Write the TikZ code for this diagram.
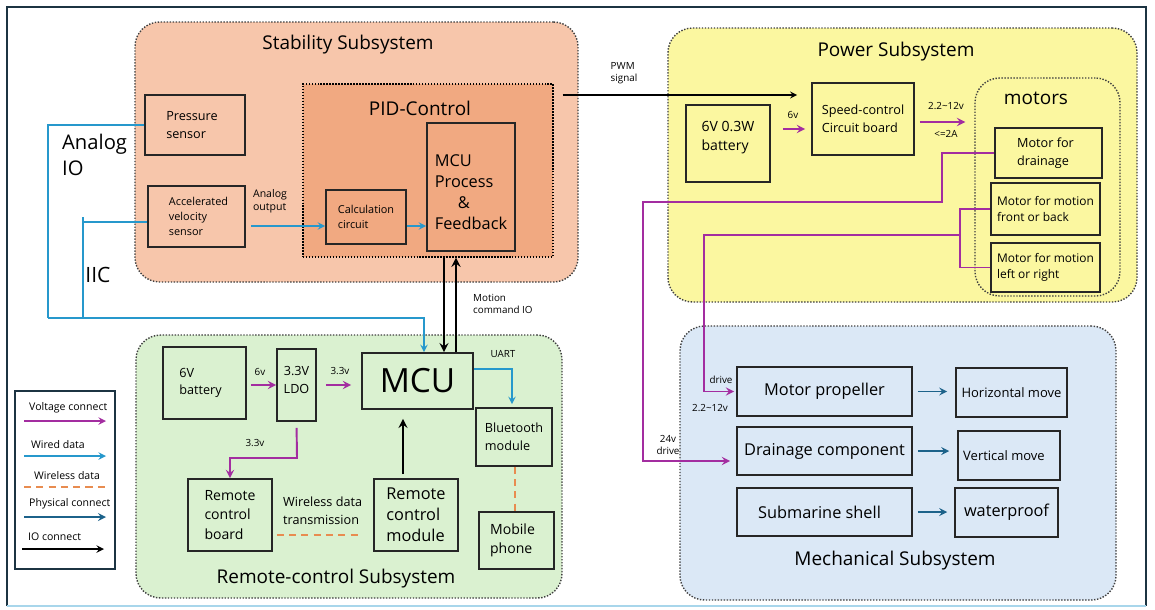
\documentclass[tikz,border=0pt]{standalone}
\usepackage{fontspec}
\setmainfont{Open Sans}
\usetikzlibrary{fit,positioning}
\tikzset{>=stealth}
\definecolor{stabFill}{RGB}{247,198,171}
\definecolor{pidFill}{RGB}{241,169,129}
\definecolor{powFill}{RGB}{251,247,160}
\definecolor{mechFill}{RGB}{219,232,246}
\definecolor{remFill}{RGB}{218,241,208}
\definecolor{voltColor}{RGB}{163,45,160}
\definecolor{wireColor}{RGB}{38,152,204}
\definecolor{wlColor}{RGB}{232,140,80}
\definecolor{physColor}{RGB}{28,98,138}
\definecolor{frameColor}{RGB}{28,52,66}
\tikzset{
  subsys/.style={draw=black!75, dash pattern=on 0.8pt off 0.9pt, line width=0.8pt, rounded corners=14pt, inner sep=0pt},
  blk/.style={draw=black!85, line width=0.9pt, inner sep=0pt},
  inb/.style={align=left, inner sep=0pt},
  ttl/.style={font=\fontsize{10.8}{13}\selectfont},
  lbl/.style={font=\fontsize{5.6}{7}\selectfont, align=left},
  txtS/.style={font=\fontsize{6.2}{8.4}\selectfont},
  txtA/.style={font=\fontsize{7.2}{10}\selectfont},
  txtB/.style={font=\fontsize{8}{11}\selectfont},
  txtC/.style={font=\fontsize{9.3}{12}\selectfont},
  volt/.style={->, voltColor, line width=1.1pt},
  voltline/.style={voltColor, line width=0.9pt},
  wired/.style={->, wireColor, line width=0.9pt},
  wiredline/.style={wireColor, line width=0.9pt},
  wless/.style={wlColor, line width=0.9pt, dash pattern=on 4pt off 3pt},
  phys/.style={->, physColor, line width=1pt},
  io/.style={->, black, line width=1.1pt}
}
\begin{document}
\begin{tikzpicture}[x=0.02cm, y=-0.02cm]
\useasboundingbox (0,0) rectangle (1155,609);
% outer frame
\draw[frameColor, line width=1.2pt] (7,606) -- (7,7) -- (1146,7) -- (1146,606);
\draw[wireColor!40, line width=1pt] (7,606) -- (1146,606);

% stability subsystem
\node[subsys, fill=stabFill, fit={(135,22) (578,282)}] (stab) {};
\node[ttl] (stabT) at (348,45) {Stability Subsystem};
\node[subsys, fill=pidFill, rounded corners=0pt, draw=black, fit={(303,84) (553,257)}] (pid) {};
\node[ttl] (pidT) at (420,108) {PID-Control};
\node[blk, fit={(145,95) (245,155)}] (pres) {};
\node[inb, txtA] (presT) at ([xshift=-0.06cm]pres.center) {Pressure\\sensor};
\node[blk, fit={(148,186) (245,247)}] (accel) {};
\node[inb, txtS] (accelT) at ([xshift=0.04cm]accel.center) {Accelerated\\velocity\\sensor};
\node[blk, fit={(326,190) (406,244)}] (calc) {};
\node[inb, txtS] (calcT) at (calc.center) {Calculation\\circuit};
\node[blk, fit={(427,123) (515,251)}] (mcup) {};
\node[inb, txtC] (mcupT) at ([yshift=-0.1cm]mcup.center) {MCU\\Process\\\hspace{1.4em}\&\\Feedback};
\node[lbl, font=\fontsize{6}{7.6}\selectfont] (aout) at (270,201) {Analog\\output};
\node[anchor=west, align=left, font=\fontsize{11.5}{15}\selectfont] (aio) at (56,155) {Analog\\IO};
\node[font=\fontsize{12}{14}\selectfont] (iic) at (98,275) {IIC};

% power subsystem
\node[subsys, fill=powFill, fit={(668,28) (1137,302)}] (pow) {};
\node[ttl] (powT) at (896,52) {Power Subsystem};
\node[blk, fit={(686,105) (770,182)}] (pbat) {};
\node[inb, txtB] (pbatT) at ([yshift=0.12cm]pbat.center) {6V 0.3W\\battery};
\node[blk, fit={(812,83) (914,155)}] (speed) {};
\node[inb, txtA] (speedT) at (speed.center) {Speed-control\\Circuit board};
\node[subsys, fit={(975,78) (1120,296)}] (mot) {};
\node[ttl] (motT) at (1036,98) {motors};
\node[blk, fit={(995,128) (1102,178)}] (mdrain) {};
\node[inb, txtA] (mdrainT) at ([xshift=-0.06cm]mdrain.center) {Motor for\\drainage};
\node[blk, fit={(991,183) (1100,235)}] (mfb) {};
\node[inb, font=\fontsize{6.8}{9}\selectfont] (mfbT) at (mfb.center) {Motor for motion\\front or back};
\node[blk, fit={(991,243) (1100,292)}] (mlr) {};
\node[inb, font=\fontsize{6.8}{9}\selectfont] (mlrT) at (mlr.center) {Motor for motion\\left or right};

% mechanical subsystem
\node[subsys, fill=mechFill, fit={(680,326) (1116,600)}] (mech) {};
\node[ttl] (mechT) at (895,561) {Mechanical Subsystem};
\node[blk, fit={(737,367) (912,416)}] (prop) {};
\node[inb, txtC] (propT) at (prop.center) {Motor propeller};
\node[blk, fit={(737,427) (912,475)}] (dcomp) {};
\node[inb, txtC] (dcompT) at (dcomp.center) {Drainage component};
\node[blk, fit={(737,488) (912,536)}] (shell) {};
\node[inb, txtC] (shellT) at ([xshift=-0.1cm]shell.center) {Submarine shell};
\node[blk, fit={(956,368) (1067,417)}] (hmove) {};
\node[inb, font=\fontsize{7.4}{9}\selectfont] (hmoveT) at (hmove.center) {Horizontal move};
\node[blk, fit={(958,431) (1060,480)}] (vmove) {};
\node[inb, font=\fontsize{7.4}{9}\selectfont] (vmoveT) at ([xshift=-0.1cm]vmove.center) {Vertical move};
\node[blk, fit={(955,488) (1058,537)}] (wproof) {};
\node[inb, txtC] (wproofT) at (wproof.center) {waterproof};

% remote-control subsystem
\node[subsys, fill=remFill, fit={(136,335) (562,598)}] (rem) {};
\node[ttl] (remT) at (336,579) {Remote-control Subsystem};
\node[blk, fit={(163,347) (246,419)}] (rbat) {};
\node[inb, txtA] (rbatT) at ([xshift=-0.08cm]rbat.center) {6V\\battery};
\node[blk, fit={(277,349) (316,421)}] (ldo) {};
\node[inb, txtA, align=center] (ldoT) at ([yshift=0.1cm]ldo.center) {3.3V\\LDO};
\node[blk, fit={(362,353) (473,409)}] (mcu) {};
\node[inb, font=\fontsize{19}{22}\selectfont] (mcuT) at (mcu.center) {MCU};
\node[blk, fit={(476,408) (552,466)}] (bt) {};
\node[inb, txtA] (btT) at (bt.center) {Bluetooth\\module};
\node[blk, fit={(479,512) (554,569)}] (phone) {};
\node[inb, txtB] (phoneT) at ([xshift=-0.08cm]phone.center) {Mobile\\phone};
\node[blk, fit={(188,479) (272,551)}] (rboard) {};
\node[inb, txtB] (rboardT) at (rboard.center) {Remote\\control\\board};
\node[blk, fit={(374,479) (458,551)}] (rmod) {};
\node[inb, txtC] (rmodT) at (rmod.center) {Remote\\control\\module};
\node[txtA, align=left, anchor=west] (wdt) at (277,511) {Wireless data\\transmission};

% legend
\node[draw=frameColor, fill=white, line width=1pt, inner sep=0pt, fit={(15,391) (115,569)}] (legend) {};
\node[lbl, font=\fontsize{6}{7}\selectfont, anchor=west] (lgV) at (23,408) {Voltage connect};
\node[lbl, font=\fontsize{6}{7}\selectfont, anchor=west] (lgW) at (25,445) {Wired data};
\node[lbl, font=\fontsize{6}{7}\selectfont, anchor=west] (lgL) at (28,476) {Wireless data};
\node[lbl, font=\fontsize{6}{7}\selectfont, anchor=west] (lgP) at (23,504) {Physical connect};
\node[lbl, font=\fontsize{6}{7}\selectfont, anchor=west] (lgI) at (22,537) {IO connect};
\draw[volt, line width=0.9pt] (24,421) -- (106,421);
\draw[wired] (24,456) -- (106,456);
\draw[wless] (24,487) -- (106,487);
\draw[phys] (24,517) -- (106,517);
\draw[io, line width=0.9pt] (22,549) -- (104,549);

% stability connectors
\draw[wired, shorten <=3pt] (accel.east |- 0,226) -- (calc.west |- 0,226);
\draw[wired] (calc.east |- 0,226) -- (mcup.west |- 0,226);
\coordinate (busL) at (48,318);
\coordinate (busJ) at (83,318);
\draw[wiredline] (pres.west) -| (busL);
\draw[wired] (busL) -- (424,318) -- (mcu.north -| 424,0);
\draw[wiredline] (accel.west |- 0,222) -- (83,222) -- (busJ);
\draw[wiredline] (83,217) -- (83,222);
\draw[io, line width=1.3pt] (pid.south -| 444,0) -- (mcu.north -| 444,0);
\draw[io, line width=1.3pt] (mcu.north -| 456,0) -- (pid.south -| 456,0);
\node[lbl, anchor=west] (mcio) at (467,304) {Motion\\command IO};

% PWM
\draw[io, line width=0.8pt, shorten <=0.18cm, shorten >=0.28cm] (pid.east |- 0,95) -- (speed.west |- 0,95);
\node[lbl] (pwmL) at (624,73) {PWM\\signal};

% power connectors
\draw[volt, shorten <=0.24cm, shorten >=0.12cm] (pbat.east |- 0,129) -- (speed.west |- 0,129);
\node[lbl] (l6v) at (793,115) {6v};
\draw[volt, shorten <=0.1cm, shorten >=0.18cm] (speed.east |- 0,122) -- (mot.west |- 0,122);
\node[lbl] (l212) at (946,106) {2.2\textasciitilde12v};
\node[lbl] (l2a) at (946,134) {<=2A};
\draw[voltline] (mfb.west) -- (mfb.west -| 960,0) -- (mlr.west -| 960,0) -- (mlr.west);
\draw[volt, shorten >=0.04cm] (960,235) -- (704,235) |- (prop.west);
\draw[volt, shorten >=0.12cm] (mdrain.west) -| (942,202) -- (643,202) |- (dcomp.west |- 0,461);
\node[lbl] (ldrv) at (721,380) {drive};
\node[lbl] (l212b) at (710,408) {2.2\textasciitilde12v};
\node[lbl, align=center] (l24) at (668,445) {24v\\drive};

% mechanical connectors
\draw[phys, shorten <=0.1cm, shorten >=0.16cm] (prop.east) -- (prop.east -| hmove.west);
\draw[phys, shorten <=0.1cm, shorten >=0.16cm] (dcomp.east) -- (dcomp.east -| vmove.west);
\draw[phys, shorten <=0.1cm, shorten >=0.14cm] (shell.east) -- (shell.east -| wproof.west);

% remote-control connectors
\draw[volt, shorten <=0.08cm] (rbat.east |- 0,385) -- (ldo.west |- 0,385);
\node[lbl] (r6v) at (260,372) {6v};
\draw[volt, shorten <=0.18cm, shorten >=0.2cm] (ldo.east |- 0,385) -- (mcu.west |- 0,385);
\node[lbl] (r33a) at (340,371) {3.3v};
\draw[volt, shorten <=0.12cm] (ldo.south) -- (297,458) -| (rboard.north -| 230,0);
\node[lbl] (r33b) at (255,443) {3.3v};
\draw[wired, shorten >=0.06cm] (mcu.east |- 0,369) -| (bt.north -| 512,0);
\node[lbl] (uart) at (503,354) {UART};
\draw[io, line width=1.3pt, shorten <=0.08cm, shorten >=0.18cm] (rmod.north -| 403,0) -- (mcu.south -| 403,0);
\draw[wless] (bt.south -| 515,0) -- (phone.north -| 515,0);
\draw[wless, shorten <=0.08cm, shorten >=0.28cm] (rboard.east |- 0,535) -- (rmod.west |- 0,535);
\end{tikzpicture}
\end{document}
